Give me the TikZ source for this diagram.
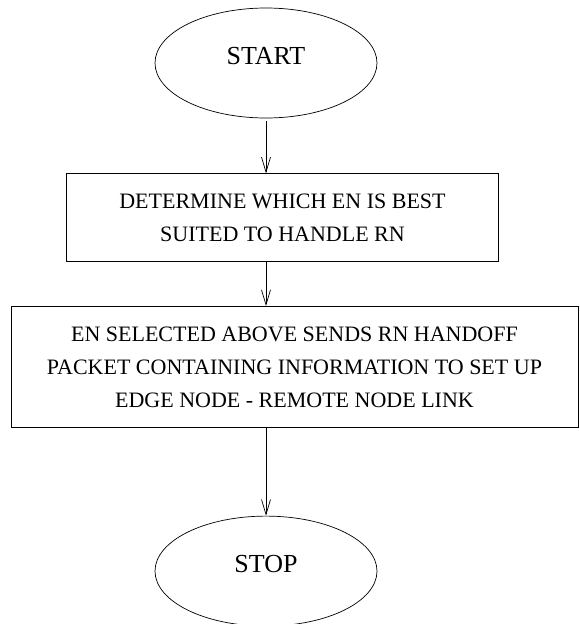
\documentclass[tikz,border=0pt]{standalone}
\usepackage{fontspec}
\setmainfont{Liberation Serif}
\usetikzlibrary{arrows.meta, positioning, shapes.geometric}

\begin{document}
\begin{tikzpicture}[>={Straight Barb[length=15pt, width=9pt]}, x=1pt, y=1pt, line width=0.7pt]
  \tikzstyle{term}=[draw, ellipse, inner sep=0pt, minimum width=222pt, minimum height=110pt, text depth=14pt, font=\fontsize{26}{30}\selectfont]
  \tikzstyle{proc}=[draw, align=center, inner sep=0pt, font=\fontsize{22}{33}\selectfont]

  \useasboundingbox (0,0) rectangle (579,-624);

  % Vertical layout
  \node[term] (start) at (266,-63) {START};
  \node[proc, minimum width=432pt, minimum height=88pt, below=55pt of start, xshift=16.5pt] (pick) {DETERMINE WHICH EN IS BEST\\SUITED TO HANDLE RN};
  \node[proc, minimum width=567pt, minimum height=121pt, below=44pt of pick, xshift=12pt] (send) {EN SELECTED ABOVE SENDS RN HANDOFF\\PACKET CONTAINING INFORMATION TO SET UP\\EDGE NODE - REMOTE NODE LINK};
  \node[term, below=88pt of send, xshift=-28.5pt] (stop) {STOP};

  \draw[->, shorten <=3pt] (start.south) -- (start.south |- pick.north);
  \draw[->] (start |- pick.south) -- (start |- send.north);
  \draw[->] (start |- send.south) -- (stop.north);
\end{tikzpicture}
\end{document}
